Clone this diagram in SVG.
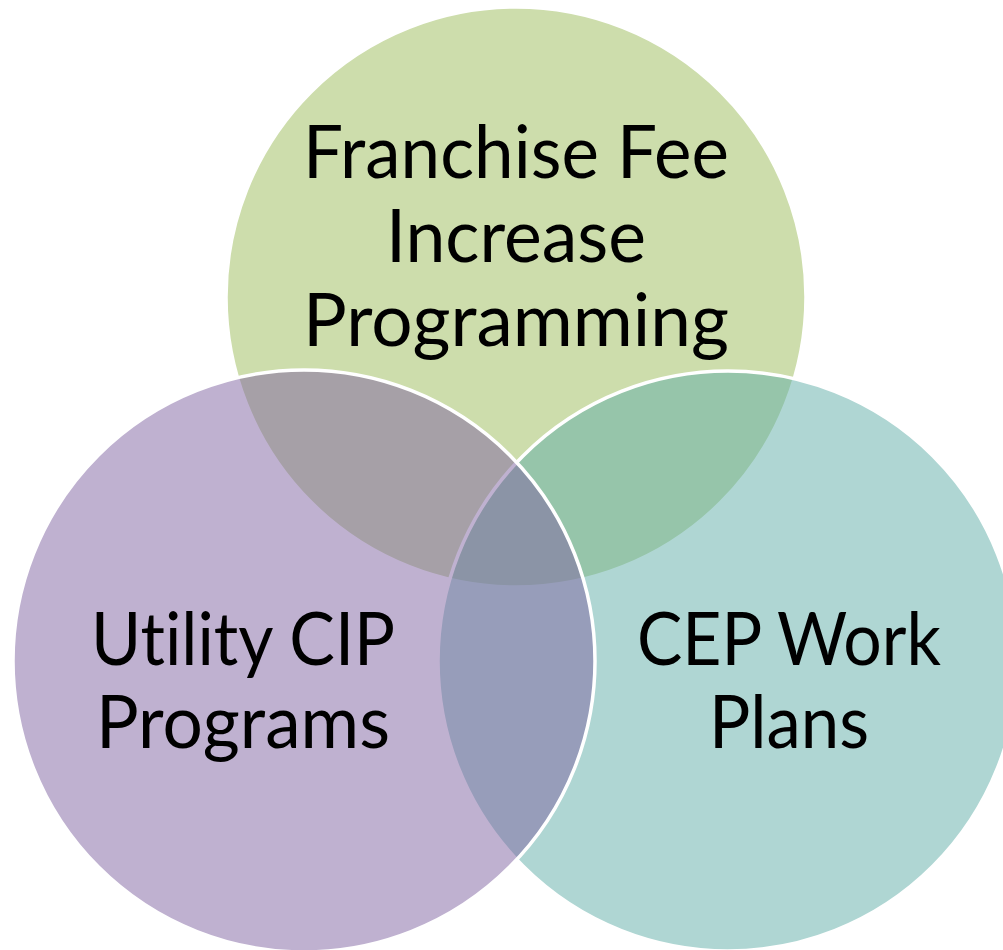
<svg xmlns="http://www.w3.org/2000/svg" width="1003" height="950" viewBox="0 0 1003 950">
<style>
.c{fill-opacity:0.5;stroke:#fff;stroke-width:3.5}
.t{font-family:Lato,"Open Sans",sans-serif;font-size:73px;fill:#000;text-anchor:middle;font-variant-ligatures:none}
</style>
<rect width="1003" height="950" fill="#fff"/>
<g id="franchise">
<circle class="c" cx="516" cy="297" r="290" fill="#9BBB59" stroke="none"/>
</g>
<g id="cep">
<circle class="c" cx="728" cy="661" r="290" fill="#5FADA7"/>
</g>
<g id="utility">
<circle class="c" cx="304" cy="661" r="291" fill="#8064A2"/>
</g>
<g id="labels">
<text class="t" x="516" y="178" textLength="426" lengthAdjust="spacingAndGlyphs">Franchise Fee</text>
<text class="t" x="516" y="262" textLength="260" lengthAdjust="spacingAndGlyphs">Increase</text>
<text class="t" x="516" y="346" textLength="426" lengthAdjust="spacingAndGlyphs">Programming</text>
<text class="t" x="243" y="665" textLength="304" lengthAdjust="spacingAndGlyphs">Utility CIP</text>
<text class="t" x="243" y="748" textLength="294" lengthAdjust="spacingAndGlyphs">Programs</text>
<text class="t" x="789" y="665" textLength="304" lengthAdjust="spacingAndGlyphs">CEP Work</text>
<text class="t" x="789" y="748" textLength="160" lengthAdjust="spacingAndGlyphs">Plans</text>
</g>
</svg>
